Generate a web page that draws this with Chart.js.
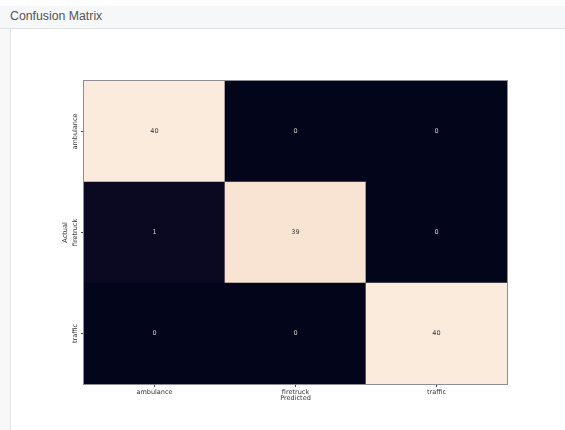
<!DOCTYPE html>
<html>
<head>
<meta charset="utf-8">
<script src="https://cdn.jsdelivr.net/npm/chart.js@4"></script>
<style>
  body { margin: 0; width: 565px; height: 430px; background: #fff; position: relative; overflow: hidden; }
  #side { position: absolute; left: 0; top: 29px; width: 10px; height: 401px; background: #f8f8f9; border-right: 1px solid #e3e4e7; }
  #header { position: absolute; left: 0; top: 6px; width: 565px; height: 22px; background: #f6f7f9; border-bottom: 1px solid #e0e1e4; }
  #header span { position: absolute; left: 10px; top: 3px; font: 12.3px "Liberation Sans", Arial, sans-serif; color: #555; }
  #wrap { position: absolute; left: 11px; top: 29px; width: 554px; height: 401px; }
</style>
</head>
<body>
<div id="header"><span>Confusion Matrix</span></div>
<div id="side"></div>
<div id="wrap"><canvas id="chartCM"></canvas></div>
<script>
// Datos de la matriz
const predictedLabels = ['ambulance', 'firetruck', 'traffic'];
const actualLabels = ['ambulance', 'firetruck', 'traffic'];
const rowAmbulance = [40, 0, 0];
const rowFiretruck = [1, 39, 0];
const rowTraffic = [0, 0, 40];
const matrixRows = [rowAmbulance, rowFiretruck, rowTraffic];
const maxCount = 40;

// Paleta tipo "rocket"
const rocketStops = [
  [0.0, [3, 5, 26]],
  [0.125, [43, 27, 68]],
  [0.875, [246, 195, 165]],
  [1.0, [250, 235, 221]]
];

function rocketColor(v) {
  const t = Math.max(0, Math.min(1, v / maxCount));
  for (let i = 1; i < rocketStops.length; i++) {
    const [t1, c1] = rocketStops[i];
    const [t0, c0] = rocketStops[i - 1];
    if (t <= t1) {
      const f = (t - t0) / (t1 - t0);
      const c = c0.map((x, k) => Math.round(x + (c1[k] - x) * f));
      return `rgb(${c[0]}, ${c[1]}, ${c[2]})`;
    }
  }
  return 'rgb(250, 235, 221)';
}

// Filas apiladas de abajo hacia arriba (traffic abajo)
const datasets = matrixRows.map((row, r) => ({
  label: actualLabels[r],
  counts: row,
  data: row.map(() => 1),
  backgroundColor: row.map(v => rocketColor(v)),
  borderWidth: 0,
  barPercentage: 1,
  categoryPercentage: 1
})).reverse();

const FONT = '"DejaVu Sans", sans-serif';

const cmPlugin = {
  id: 'cmPlugin',
  afterDatasetsDraw(chart) {
    const ctx = chart.ctx;
    const area = chart.chartArea;
    ctx.save();
    // valores en cada celda
    ctx.font = `6.5px ${FONT}`;
    ctx.textAlign = 'center';
    ctx.textBaseline = 'middle';
    chart.data.datasets.forEach((ds, i) => {
      chart.getDatasetMeta(i).data.forEach((bar, j) => {
        const v = ds.counts[j];
        const yc = (bar.y + bar.base) / 2;
        ctx.fillStyle = v / maxCount > 0.5 ? '#333333' : '#d0d0d0';
        ctx.fillText(String(v), bar.x, yc);
      });
    });
    // borde del area
    ctx.strokeStyle = '#8e8c94';
    ctx.lineWidth = 1;
    ctx.strokeRect(area.left - 0.5, area.top - 0.5, area.right - area.left + 1, area.bottom - area.top + 1);
    // etiquetas del eje y giradas
    const yScale = chart.scales.y;
    ctx.fillStyle = '#333';
    ctx.font = `6.5px ${FONT}`;
    actualLabels.forEach((lab, r) => {
      const y = yScale.getPixelForValue(actualLabels.length - r - 0.5);
      ctx.save();
      ctx.translate(area.left - 5, y);
      ctx.rotate(-Math.PI / 2);
      ctx.textBaseline = 'bottom';
      ctx.fillText(lab, 0, 0);
      ctx.restore();
    });
    // titulos de ejes
    ctx.save();
    ctx.translate(area.left - 15, (area.top + area.bottom) / 2);
    ctx.rotate(-Math.PI / 2);
    ctx.textBaseline = 'bottom';
    ctx.fillText('Actual', 0, 0);
    ctx.restore();
    ctx.textBaseline = 'middle';
    ctx.fillText('Predicted', (area.left + area.right) / 2, area.bottom + 14);
    ctx.restore();
  }
};

new Chart(document.getElementById('chartCM'), {
  type: 'bar',
  data: { labels: predictedLabels, datasets: datasets },
  options: {
    responsive: true,
    maintainAspectRatio: false,
    animation: false,
    layout: { padding: { top: 52, right: 58, left: 0, bottom: 0 } },
    plugins: { legend: { display: false }, tooltip: { enabled: false } },
    scales: {
      x: {
        stacked: true,
        border: { display: false },
        grid: { display: true, drawOnChartArea: false, offset: false, tickLength: 3, color: '#444' },
        ticks: { color: '#333', font: { family: FONT, size: 6.5 }, padding: 1, maxRotation: 0 },
        afterFit: scale => { scale.height = 46; }
      },
      y: {
        stacked: true,
        min: 0,
        max: 3,
        border: { display: false },
        afterBuildTicks: scale => { scale.ticks = [0.5, 1.5, 2.5].map(v => ({ value: v })); },
        grid: { display: true, drawOnChartArea: false, tickLength: 3, color: '#444' },
        ticks: { display: false },
        afterFit: scale => { scale.width = 73; }
      }
    }
  },
  plugins: [cmPlugin]
});
</script>
</body>
</html>
